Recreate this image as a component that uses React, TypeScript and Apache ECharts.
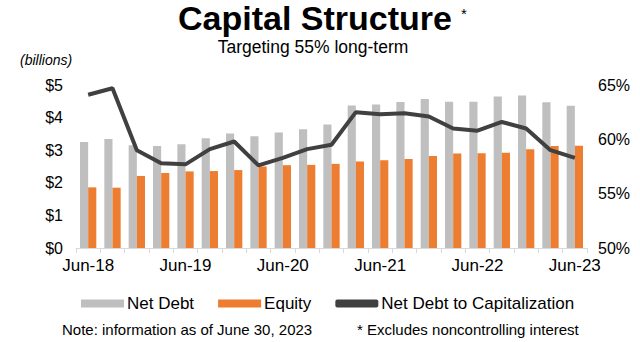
import React, { useEffect, useRef } from "react";
import * as echarts from "echarts";

const categories = [
  "Jun-18", "Sep-18", "Dec-18", "Mar-19", "Jun-19", "Sep-19", "Dec-19", "Mar-20",
  "Jun-20", "Sep-20", "Dec-20", "Mar-21", "Jun-21", "Sep-21", "Dec-21", "Mar-22",
  "Jun-22", "Sep-22", "Dec-22", "Mar-23", "Jun-23",
];
const netDebt = [
  3.25, 3.34, 3.15, 3.13, 3.18, 3.37, 3.51, 3.43, 3.54, 3.64, 3.79,
  4.37, 4.4, 4.48, 4.57, 4.49, 4.49, 4.65, 4.68, 4.47, 4.36,
];
const equity = [
  1.86, 1.85, 2.21, 2.3, 2.35, 2.36, 2.39, 2.5, 2.54, 2.55, 2.58,
  2.65, 2.69, 2.73, 2.82, 2.9, 2.91, 2.92, 3.03, 3.13, 3.14,
];
const debtToCap = [
  64.1, 64.7, 59.0, 57.8, 57.7, 59.1, 59.8, 57.6, 58.3, 59.1, 59.5,
  62.5, 62.3, 62.4, 62.1, 61.0, 60.8, 61.6, 61.0, 59.0, 58.3,
];
const leftTicks = ["$0", "$1", "$2", "$3", "$4", "$5"];
const rightTicks = ["50%", "55%", "60%", "65%"];

const FONT = "'Liberation Sans', Arial, sans-serif";

export default function App() {
  const ref = useRef<HTMLDivElement>(null);
  useEffect(() => {
    if (!ref.current) return;
    const chart = echarts.init(ref.current, undefined, { renderer: "svg" });
    chart.setOption({
      animation: false,
      textStyle: { fontFamily: FONT },
      graphic: [
        {
          type: "text",
          x: 315,
          y: 1,
          style: { text: "Capital Structure", font: `bold 34px ${FONT}`, fill: "#000", textAlign: "center" },
        },
        {
          type: "text",
          x: 461,
          y: 6,
          style: { text: "*", font: `15px ${FONT}`, fill: "#000" },
        },
        {
          type: "text",
          x: 313,
          y: 38,
          style: { text: "Targeting 55% long-term", font: `17.5px ${FONT}`, fill: "#000", textAlign: "center" },
        },
        {
          type: "text",
          left: 20,
          top: 53,
          style: { text: "(billions)", font: `italic 14px ${FONT}`, fill: "#000" },
        },
        {
          type: "text",
          left: 62,
          top: 322,
          style: { text: "Note: information as of June 30, 2023", font: `15px ${FONT}`, fill: "#000" },
        },
        {
          type: "text",
          left: 357,
          top: 322,
          style: { text: "* Excludes noncontrolling interest", font: `15px ${FONT}`, fill: "#000" },
        },
      ],
      legend: {
        left: 76,
        top: 290,
        itemGap: 24,
        itemWidth: 43,
        itemHeight: 8,
        textStyle: { fontSize: 17, color: "#000", fontFamily: FONT, padding: [0, 0, 0, -2] },
        data: [
          { name: "Net Debt", icon: "rect" },
          { name: "Equity", icon: "rect" },
          { name: "Net Debt to Capitalization", icon: "roundRect", itemStyle: { color: "#404040" } },
        ],
      },
      grid: { left: 76, right: 53, top: 85, bottom: 94 },
      xAxis: {
        type: "category",
        data: categories,
        boundaryGap: true,
        axisLine: { lineStyle: { color: "#D9D9D9", width: 1 } },
        axisTick: { show: true, alignWithLabel: false, interval: 0, length: 5, lineStyle: { color: "#D9D9D9" } },
        axisLabel: {
          interval: 3,
          fontSize: 17,
          color: "#000",
          margin: 9,
          fontFamily: FONT,
        },
      },
      yAxis: [
        {
          type: "value",
          min: 0,
          max: 5,
          interval: 1,
          splitLine: { show: false },
          axisLine: { show: false },
          axisTick: { show: false },
          axisLabel: {
            fontSize: 16,
            color: "#000",
            margin: 13,
            fontFamily: FONT,
            formatter: (v: number) => leftTicks[Math.round(v)] ?? "",
          },
        },
        {
          type: "value",
          min: 50,
          max: 65,
          interval: 5,
          splitLine: { show: false },
          axisLine: { show: false },
          axisTick: { show: false },
          axisLabel: {
            fontSize: 16,
            color: "#000",
            margin: 11,
            fontFamily: FONT,
            formatter: (v: number) => rightTicks[Math.round((v - 50) / 5)] ?? "",
          },
        },
      ],
      series: [
        {
          name: "Net Debt",
          type: "bar",
          data: netDebt,
          barGap: "0%",
          barCategoryGap: "33%",
          itemStyle: { color: "#BFBFBF" },
        },
        {
          name: "Equity",
          type: "bar",
          data: equity,
          itemStyle: { color: "#ED7D31" },
        },
        {
          name: "Net Debt to Capitalization",
          type: "line",
          yAxisIndex: 1,
          data: debtToCap,
          symbol: "none",
          lineStyle: { color: "#404040", width: 4 },
          itemStyle: { color: "#404040" },
        },
      ],
    });
    return () => chart.dispose();
  }, []);
  return <div ref={ref} style={{ width: 640, height: 342, position: "absolute", left: 0, top: 0 }} />;
}
